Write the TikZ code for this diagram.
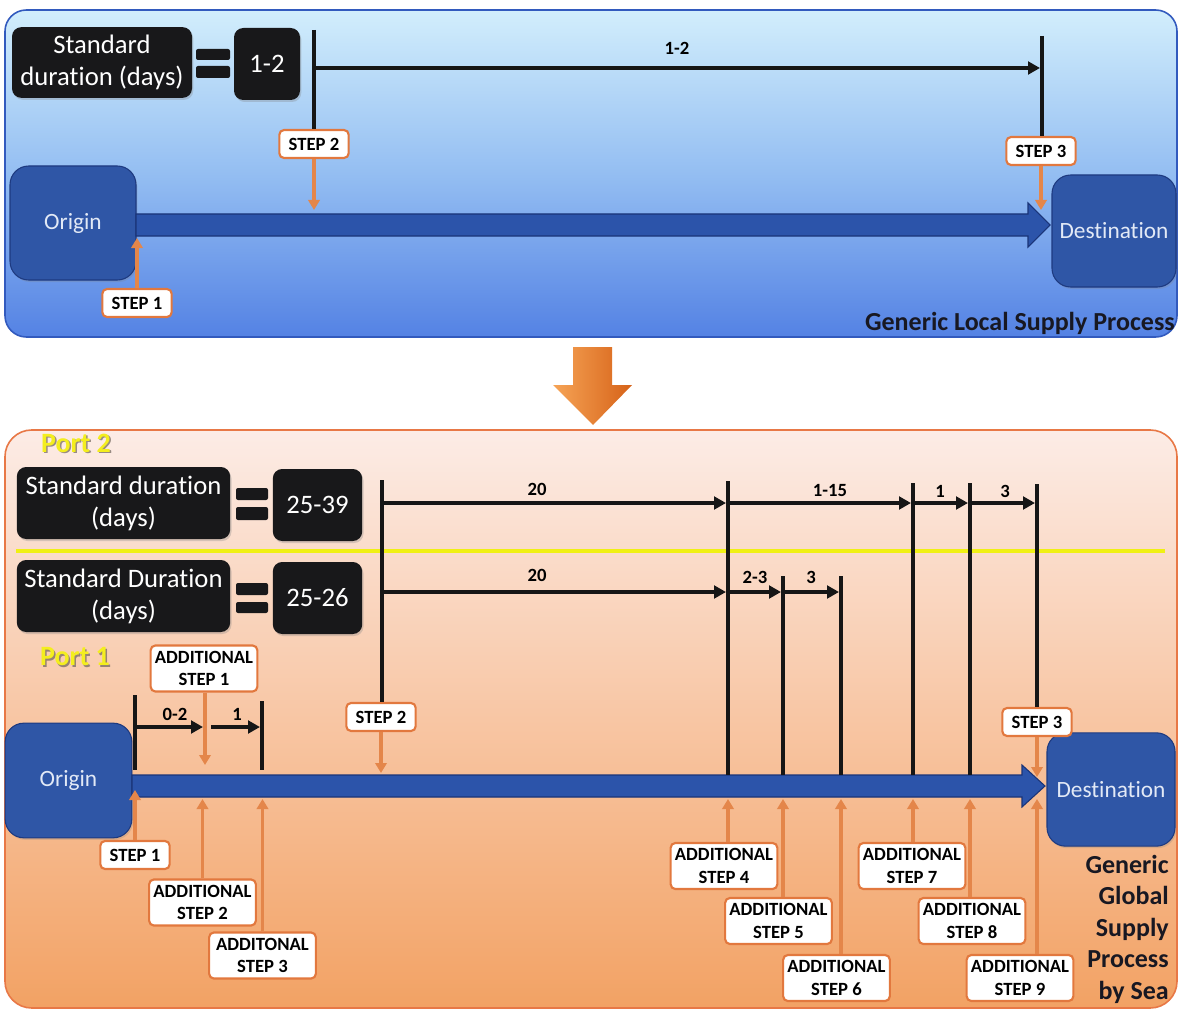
\documentclass[tikz,border=0pt]{standalone}
\usepackage{fontspec}
\setmainfont{Carlito}[Ligatures=NoCommon]
\usetikzlibrary{arrows.meta,shadows,calc}

\definecolor{topA}{RGB}{210,238,252}
\definecolor{topM}{RGB}{148,190,242}
\definecolor{topB}{RGB}{84,130,228}
\definecolor{topedge}{RGB}{50,90,190}
\definecolor{botA}{RGB}{252,236,230}
\definecolor{botM}{RGB}{248,198,164}
\definecolor{botB}{RGB}{242,162,100}
\definecolor{botedge}{RGB}{232,120,70}
\definecolor{boxblack}{RGB}{24,24,26}
\definecolor{inkblack}{RGB}{22,22,22}
\definecolor{procblue}{RGB}{47,86,166}
\definecolor{procedge}{RGB}{30,58,128}
\definecolor{proctext}{RGB}{226,233,246}
\definecolor{flowblue}{RGB}{44,84,170}
\definecolor{flowedge}{RGB}{26,52,120}
\definecolor{tagedge}{RGB}{226,120,62}
\definecolor{feedor}{RGB}{228,134,74}
\definecolor{portyellow}{RGB}{244,238,30}
\definecolor{portshade}{RGB}{110,100,90}
\definecolor{hiline}{RGB}{240,240,20}
\definecolor{titleink}{RGB}{24,24,34}
\definecolor{downA}{RGB}{246,164,86}
\definecolor{downB}{RGB}{214,98,24}

\begin{document}
\begin{tikzpicture}[x=0.75pt,y=-0.75pt,
  durbox/.style={fill=boxblack, rounded corners=7pt, text=white, align=center,
    inner sep=0pt, font=\fontsize{20}{24}\selectfont,
    drop shadow={opacity=0.3, shadow xshift=1pt, shadow yshift=-1.5pt}},
  place/.style={fill=procblue, draw=procedge, line width=0.8pt, rounded corners=14pt,
    text=proctext, font=\fontsize{17.5}{21}\selectfont, inner sep=0pt,
    drop shadow={opacity=0.25, shadow xshift=1pt, shadow yshift=-1.5pt}},
  tag/.style={fill=white, draw=tagedge, line width=1.6pt, rounded corners=3.5pt,
    font=\fontsize{14}{17}\selectfont\bfseries, align=center, inner sep=0pt},
  tagone/.style={tag, minimum width=52pt, minimum height=21pt},
  tagtwo/.style={tag, minimum width=80pt, minimum height=34.5pt},
  bar/.style={line width=3.2pt, draw=inkblack},
  span/.style={line width=3.2pt, draw=inkblack, shorten >=1.5pt,
    -{Triangle[length=9pt,width=9.5pt]}},
  feed/.style={line width=2.8pt, draw=feedor, -{Triangle[length=7.5pt,width=8.5pt]}},
  num/.style={font=\fontsize{14}{17}\selectfont\bfseries, inner sep=0pt},
  portlbl/.style={font=\fontsize{21}{25}\selectfont\bfseries, inner sep=0pt},
  ttl/.style={font=\fontsize{19.5}{23.6}\selectfont\bfseries, text=titleink, inner sep=0pt}]

\useasboundingbox (0,0) rectangle (1178,1013);
\fill[white] (0,0) rectangle (1178,1013);

%% ---------------- local supply process ----------------
\shade[top color=topA, bottom color=topB, middle color=topM, rounded corners=16pt]
  (5,10) rectangle (1177,337);
\draw[topedge, line width=1.2pt, rounded corners=16pt] (5,10) rectangle (1177,337);

\node[durbox, minimum width=135pt, minimum height=53pt] (dur1) at (102,62.5)
  {Standard\\duration (days)};
\fill[boxblack, rounded corners=1.5pt] (196,49) rectangle (230,60);
\fill[boxblack, rounded corners=1.5pt] (196,66) rectangle (230,78);
\node[durbox, minimum width=49.5pt, minimum height=54pt] (val1) at (267,64) {1-2};

\node[place, minimum width=94.5pt, minimum height=85.5pt] (origin1) at (73,223) {Origin};
\node[place, minimum width=93pt, minimum height=84pt] (dest1) at (1114,231) {Destination};

% main flow arrow
\filldraw[fill=flowblue, draw=flowedge, line width=0.8pt]
  (136,214) -- (1028,214) -- (1028,203) -- (1050,225) -- (1028,247) -- (1028,236)
  -- (136,236) -- cycle;

\node[tagone] (step2a) at (314,144) {STEP 2};
\node[tagone] (step3a) at (1041,151) {STEP 3};
\node[tagone] (step1a) at (137,303) {STEP 1};

\coordinate (A1) at (314,30);
\coordinate (B1) at (1042,36);
\coordinate (row0) at (0,68);
\draw[bar] (A1) -- (step2a.north);
\draw[bar] (B1) -- (B1 |- step3a.north);
\draw[span] (A1 |- row0) -- (B1 |- row0);
\node[num] (n1) at (677,48) {1-2};

\coordinate (topin) at (0,210);
\coordinate (topout) at (0,238);
\draw[feed] (step2a.south) -- (step2a.south |- topin);
\draw[feed] (step3a.south) -- (step3a.south |- topin);
\draw[feed] (step1a.north) -- (step1a.north |- topout);

\node[ttl, anchor=east] (title1) at (1175,323) {Generic Local Supply Process};

%% ---------------- transition arrow ----------------
\shade[left color=downA, right color=downB]
  (573,347) -- (612,347) -- (612,385) -- (632,385) -- (593,425) -- (553,385)
  -- (573,385) -- cycle;

%% ---------------- global supply process ----------------
\shade[top color=botA, bottom color=botB, middle color=botM, rounded corners=20pt]
  (5,430) rectangle (1177,1008);
\draw[botedge, line width=1.2pt, rounded corners=20pt] (5,430) rectangle (1177,1008);

\node[portlbl, text=portshade, opacity=0.7] at (77.5,444.5) {Port 2};
\node[portlbl, text=portyellow] (port2) at (76,443) {Port 2};
\node[portlbl, text=portshade, opacity=0.7] at (76.5,658.5) {Port 1};
\node[portlbl, text=portyellow] (port1) at (75,657) {Port 1};

\node[durbox, minimum width=160pt, minimum height=54pt] (dur2) at (123.5,503)
  {Standard duration\\(days)};
\fill[boxblack, rounded corners=1.5pt] (236,488) rectangle (268,500);
\fill[boxblack, rounded corners=1.5pt] (236,507) rectangle (268,520);
\node[durbox, minimum width=67pt, minimum height=54pt] (val2) at (317.5,505) {25-39};

\draw[hiline, line width=3.5pt] (16,551) -- (1165,551);

\node[durbox, minimum width=160pt, minimum height=54pt] (dur3) at (123.5,596)
  {Standard Duration\\(days)};
\fill[boxblack, rounded corners=1.5pt] (236,583) rectangle (268,595);
\fill[boxblack, rounded corners=1.5pt] (236,602) rectangle (268,613);
\node[durbox, minimum width=67pt, minimum height=54pt] (val3) at (317.5,598) {25-26};

\node[place, minimum width=95pt, minimum height=86pt] (origin2) at (68.5,780.5) {Origin};
\node[place, minimum width=96pt, minimum height=85pt] (dest2) at (1111,789.5) {Destination};

% main flow arrow
\filldraw[fill=flowblue, draw=flowedge, line width=0.8pt]
  (132,775) -- (1022,775) -- (1022,765) -- (1045,786) -- (1022,807) -- (1022,797)
  -- (132,797) -- cycle;

% step tags
\node[tagtwo] (as1) at (204,668.5) {ADDITIONAL\\STEP 1};
\node[tagone] (step2b) at (381,717) {STEP 2};
\node[tagone] (step3b) at (1037,722) {STEP 3};
\node[tagone] (step1b) at (135,855) {STEP 1};
\node[tagtwo] (as2) at (202.5,902.5) {ADDITIONAL\\STEP 2};
\node[tagtwo] (as3) at (262.5,955.5) {ADDITONAL\\STEP 3};
\node[tagtwo] (as4) at (724,866) {ADDITIONAL\\STEP 4};
\node[tagtwo] (as5) at (778.5,921) {ADDITIONAL\\STEP 5};
\node[tagtwo] (as6) at (836.5,978) {ADDITIONAL\\STEP 6};
\node[tagtwo] (as7) at (912,866) {ADDITIONAL\\STEP 7};
\node[tagtwo] (as8) at (972,921) {ADDITIONAL\\STEP 8};
\node[tagtwo] (as9) at (1020,978) {ADDITIONAL\\STEP 9};

% milestone ticks
\coordinate (T2) at (382,480);
\coordinate (T4) at (728,481);
\coordinate (T5) at (783,576);
\coordinate (T6) at (841,576);
\coordinate (T7) at (913,483);
\coordinate (T8) at (970,483);
\coordinate (T3) at (1037,484);
\coordinate (Ta) at (135,695);
\coordinate (Tb) at (262,701);
\coordinate (shaft) at (0,775);
\coordinate (edge) at (0,770);

\draw[bar] (T2) -- (T2 |- step2b.north);
\draw[bar] (T3) -- (T3 |- step3b.north);
\draw[bar] (T4) -- (T4 |- shaft);
\draw[bar] (T5) -- (T5 |- shaft);
\draw[bar] (T6) -- (T6 |- shaft);
\draw[bar] (T7) -- (T7 |- shaft);
\draw[bar] (T8) -- (T8 |- shaft);
\draw[bar] (Ta) -- (Ta |- edge);
\draw[bar] (Tb) -- (Tb |- edge);

% durations, port 2
\coordinate (rowA) at (0,503);
\draw[span] (T2 |- rowA) -- (T4 |- rowA);
\draw[span] (T4 |- rowA) -- (T7 |- rowA);
\draw[span] (T7 |- rowA) -- (T8 |- rowA);
\draw[span] (T8 |- rowA) -- (T3 |- rowA);
\node[num] (d20a) at (537,489) {20};
\node[num] (d115) at (830,490) {1-15};
\node[num] (d1a) at (940,491) {1};
\node[num] (d3a) at (1005,491) {3};

% durations, port 1
\coordinate (rowB) at (0,592);
\draw[span] (T2 |- rowB) -- (T4 |- rowB);
\draw[span] (T4 |- rowB) -- (T5 |- rowB);
\draw[span] (T5 |- rowB) -- (T6 |- rowB);
\node[num] (d20b) at (537,575) {20};
\node[num] (d23) at (755,577) {2-3};
\node[num] (d3b) at (811,577) {3};

% durations at origin
\coordinate (rowC) at (0,727);
\coordinate (gapL) at (205,727);
\coordinate (gapR) at (211,727);
\draw[span] (Ta |- rowC) -- (gapL);
\draw[span] (gapR) -- (Tb |- rowC);
\node[num] (d02) at (175,714) {0-2};
\node[num] (d1b) at (237,714) {1};

% step feeds
\coordinate (hi) at (0,773);
\coordinate (mid) at (0,765);
\coordinate (lo) at (0,799);
\coordinate (lo1) at (0,790);
\coordinate (dn3) at (0,777);
\draw[feed] (gapL |- as1.south) -- (gapL |- mid);
\draw[feed] (step2b.south) -- (step2b.south |- hi);
\draw[feed] (step3b.south) -- (step3b.south |- dn3);
\draw[feed] (step1b.north) -- (step1b.north |- lo1);
\draw[feed] (as2.north) -- (as2.north |- lo);
\draw[feed] (as3.north) -- (as3.north |- lo);
\draw[feed] (T4 |- as4.north) -- (T4 |- lo);
\draw[feed] (T5 |- as5.north) -- (T5 |- lo);
\draw[feed] (T6 |- as6.north) -- (T6 |- lo);
\draw[feed] (T7 |- as7.north) -- (T7 |- lo);
\draw[feed] (T8 |- as8.north) -- (T8 |- lo);
\draw[feed] (T3 |- as9.north) -- (T3 |- lo);

\node[ttl, anchor=east, align=right] (title2) at (1169,929)
  {Generic\\Global\\Supply\\Process\\by Sea};

\end{tikzpicture}
\end{document}
